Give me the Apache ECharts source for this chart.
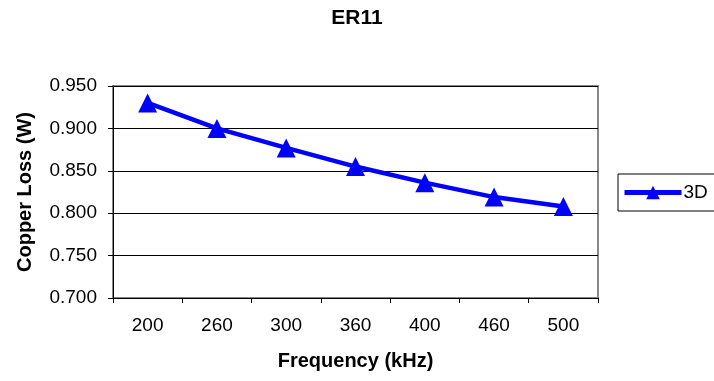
<!DOCTYPE html>
<html>
<head>
<meta charset="utf-8">
<script src="https://cdn.jsdelivr.net/npm/echarts@6/dist/echarts.min.js"></script>
<style>
  html, body { margin: 0; padding: 0; background: #fff; }
  #main { width: 714px; height: 381px; }
</style>
</head>
<body>
<div id="main"></div>
<script>
// data
const frequencies = ['200', '260', '300', '360', '400', '460', '500']
const copperLoss3D = [0.930, 0.900, 0.877, 0.855, 0.836, 0.819, 0.808]
const yTicks = { min: 0.7, max: 0.95, step: 0.05 }

const chart = echarts.init(document.getElementById('main'))

const font = 'Arial, "Liberation Sans", sans-serif'

const option = {
  backgroundColor: '#fff',
  animation: false,
  title: {
    text: 'ER11',
    left: 'center',
    top: 3,
    textStyle: { fontFamily: font, fontSize: 21, fontWeight: 'bold', color: '#000' }
  },
  legend: {
    left: 618,
    top: 174,
    padding: [9, 10, 9, 4],
    borderColor: '#000',
    borderWidth: 1,
    itemWidth: 57,
    itemHeight: 17,
    itemGap: 0,
    lineStyle: { width: 5 },
    textStyle: { fontFamily: font, fontSize: 19, color: '#000', padding: [0, 0, 0, -3] },
    data: ['3D']
  },
  grid: {
    left: 113,
    right: 116,
    top: 86,
    bottom: 83,
    show: true,
    borderColor: '#888',
    borderWidth: 2,
    backgroundColor: '#fff'
  },
  xAxis: {
    type: 'category',
    data: frequencies,
    boundaryGap: true,
    name: 'Frequency (kHz)',
    nameLocation: 'middle',
    nameGap: 53,
    nameTextStyle: { fontFamily: font, fontSize: 20, fontWeight: 'bold', color: '#000' },
    axisLine: { lineStyle: { color: '#000', width: 1 } },
    axisTick: { show: true, length: 5, inside: false, lineStyle: { color: '#000' } },
    axisLabel: { fontFamily: font, fontSize: 19, color: '#000', margin: 18 }
  },
  yAxis: {
    type: 'value',
    min: yTicks.min,
    max: yTicks.max,
    interval: yTicks.step,
    name: 'Copper Loss (W)',
    nameLocation: 'middle',
    nameGap: 78,
    nameRotate: 90,
    nameTextStyle: { fontFamily: font, fontSize: 20, fontWeight: 'bold', color: '#000' },
    axisLine: { show: true, lineStyle: { color: '#000', width: 1 } },
    axisTick: { show: true, length: 5, lineStyle: { color: '#000' } },
    axisLabel: {
      fontFamily: font, fontSize: 19, color: '#000', margin: 16,
      formatter: v => v.toFixed(3)
    },
    splitLine: { show: true, lineStyle: { color: '#000', width: 1 } }
  },
  series: [
    {
      name: '3D',
      type: 'line',
      data: copperLoss3D,
      symbol: 'triangle',
      symbolSize: 19,
      lineStyle: { color: '#0000ff', width: 4.5 },
      itemStyle: { color: '#0000ff' }
    }
  ]
}

chart.setOption(option)
</script>
</body>
</html>
